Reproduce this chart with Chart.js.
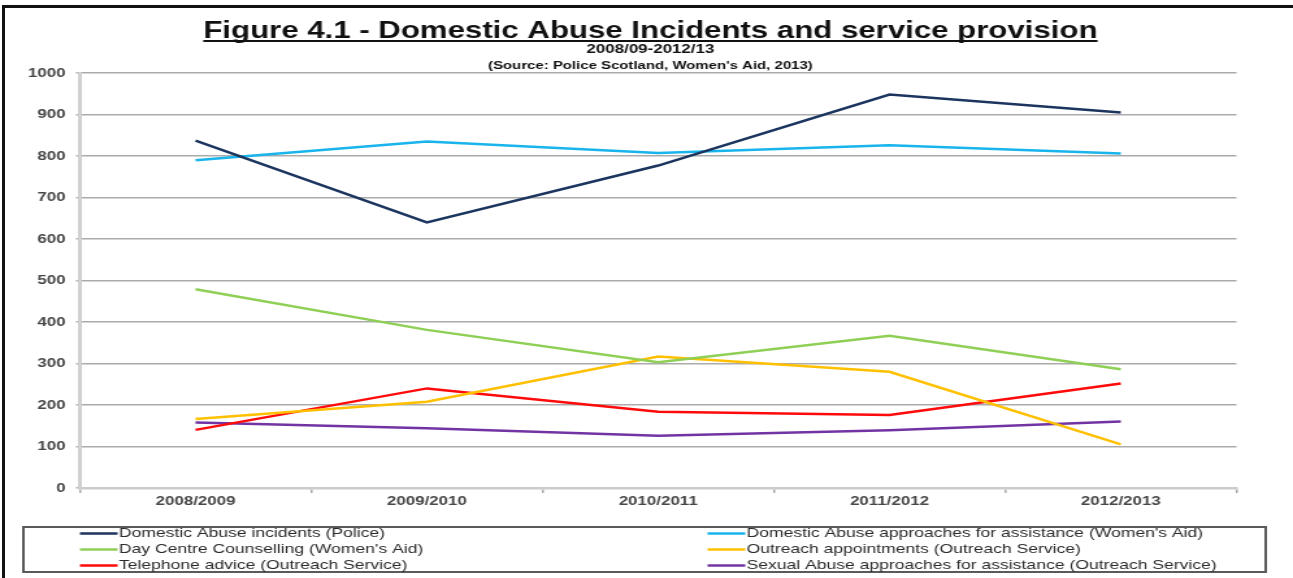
<!DOCTYPE html>
<html>
<head>
<meta charset="utf-8">
<title>Domestic Abuse Incidents and service provision</title>
<script src="https://cdn.jsdelivr.net/npm/chart.js@4"></script>
<style>
  html, body { margin: 0; padding: 0; background: #fff; }
  body { width: 1293px; height: 578px; position: relative; overflow: hidden; }
  #frame {
    position: absolute; left: 2px; top: 5px; right: 0; bottom: 0;
    border-top: 3px solid #111; border-left: 3px solid #111;
  }
  /* the figure is a widened copy, so the whole canvas is stretched sideways */
  #wrap {
    position: absolute; left: 0; top: 0; width: 995px; height: 578px;
    transform: scaleX(1.2995); transform-origin: 0 0;
  }
</style>
</head>
<body>
<div id="frame"></div>
<div id="wrap"><canvas id="chart" width="995" height="578"></canvas></div>
<script>
var years = ['2008/2009', '2009/2010', '2010/2011', '2011/2012', '2012/2013'];

var policeIncidents   = [837, 640, 777, 948, 905];
var waApproaches      = [790, 835, 807, 826, 806];
var dayCentre         = [479, 381, 303, 367, 286];
var outreachAppts     = [166, 208, 317, 280, 105];
var telephoneAdvice   = [140, 240, 184, 176, 252];
var sexualApproaches  = [158, 144, 126, 139, 160];

var yTicks = [0, 100, 200, 300, 400, 500, 600, 700, 800, 900, 1000];

var titleText = 'Figure 4.1 - Domestic Abuse Incidents and service provision';
var subText = '2008/09-2012/13';
var sourceText = "(Source: Police Scotland, Women's Aid, 2013)";

var FONT = '"Liberation Sans", Arial, sans-serif';

function series(label, data, color) {
  return {
    label: label,
    data: data,
    borderColor: color,
    backgroundColor: color,
    borderWidth: 2.5,
    pointRadius: 0,
    tension: 0,
    fill: false
  };
}

// title block with underline, subtitle and source line
var headings = {
  id: 'headings',
  afterDraw: function(chart) {
    var ctx = chart.ctx;
    var cx = chart.width / 2 + 3;
    ctx.save();
    ctx.textAlign = 'center';
    ctx.textBaseline = 'alphabetic';
    ctx.fillStyle = '#111';
    ctx.font = 'bold 24px ' + FONT;
    ctx.fillText(titleText, cx, 38);
    var w = ctx.measureText(titleText).width;
    ctx.fillRect(cx - w / 2, 40, w, 2);
    ctx.font = 'bold 13px ' + FONT;
    ctx.fillText(subText, cx, 53);
    ctx.font = 'bold 11.5px ' + FONT;
    ctx.fillText(sourceText, cx, 69);
    ctx.restore();
  }
};

// boxed two-column legend under the axis
var boxLegend = {
  id: 'boxLegend',
  afterDraw: function(chart) {
    var ctx = chart.ctx;
    var sets = chart.data.datasets;
    ctx.save();
    ctx.strokeStyle = '#5a5a5a';
    ctx.lineWidth = 2;
    ctx.strokeRect(18, 527, 956, 45);
    ctx.font = '13.5px ' + FONT;
    ctx.textBaseline = 'middle';
    ctx.textAlign = 'left';
    var cols = [61.5, 544.5];
    for (var i = 0; i < sets.length; i++) {
      var x = cols[i % 2];
      var y = 533.5 + Math.floor(i / 2) * 16;
      ctx.strokeStyle = sets[i].borderColor;
      ctx.lineWidth = 2.5;
      ctx.beginPath();
      ctx.moveTo(x, y);
      ctx.lineTo(x + 29, y);
      ctx.stroke();
      ctx.fillStyle = '#2b2b2b';
      ctx.fillText(sets[i].label, x + 30, y);
    }
    ctx.restore();
  }
};

new Chart(document.getElementById('chart').getContext('2d'), {
  type: 'line',
  data: {
    labels: years,
    datasets: [
      series('Domestic Abuse incidents (Police)', policeIncidents, '#1b355f'),
      series("Domestic Abuse approaches for assistance (Women's Aid)", waApproaches, '#19b4ec'),
      series("Day Centre Counselling (Women's Aid)", dayCentre, '#8fcf56'),
      series('Outreach appointments (Outreach Service)', outreachAppts, '#ffc000'),
      series('Telephone advice (Outreach Service)', telephoneAdvice, '#ff0a0a'),
      series('Sexual Abuse approaches for assistance (Outreach Service)', sexualApproaches, '#7334a3')
    ]
  },
  options: {
    responsive: false,
    animation: false,
    layout: { padding: { left: 0, right: 43.5, top: 73, bottom: 68 } },
    plugins: {
      legend: { display: false },
      title: { display: false },
      tooltip: { enabled: false }
    },
    scales: {
      x: {
        offset: true,
        grid: { offset: true, drawOnChartArea: false, tickLength: 5, color: '#a8a8a8', lineWidth: 1.5 },
        border: { color: '#cccccc', width: 2.5 },
        ticks: { color: '#474747', padding: 1, font: { family: FONT, size: 13, weight: 'bold' } },
        afterFit: function(scale) { scale.height = 22; }
      },
      y: {
        min: 0,
        max: 1000,
        afterBuildTicks: function(scale) {
          scale.ticks = yTicks.map(function(v) { return { value: v }; });
        },
        grid: { color: '#ababab', lineWidth: 1.5, tickLength: 3 },
        border: { color: '#d0d0d0', width: 3 },
        ticks: {
          color: '#474747',
          padding: 8,
          font: { family: FONT, size: 13, weight: 'bold' },
          callback: function(v) { return String(v); }
        },
        afterFit: function(scale) { scale.width = 61.5; }
      }
    }
  },
  plugins: [headings, boxLegend]
});
</script>
</body>
</html>
